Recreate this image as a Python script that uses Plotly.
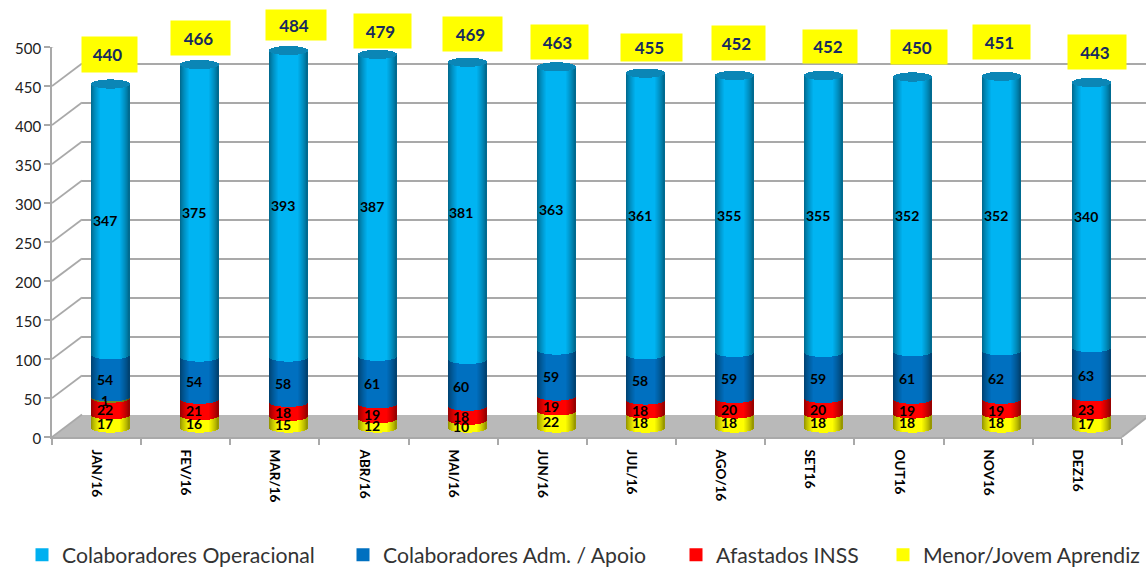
import plotly.graph_objects as go

months = ["JAN/16","FEV/16","MAR/16","ABR/16","MAI/16","JUN/16","JUL/16","AGO/16","SET16","OUT16","NOV16","DEZ16"]
operacional = [347,375,393,387,381,363,361,355,355,352,352,340]
administrativo = [54,54,58,61,60,59,58,59,59,61,62,63]
extra = [1,0,0,0,0,0,0,0,0,0,0,0]
afastados = [22,21,18,19,18,19,18,20,20,19,19,23]
aprendiz = [17,16,15,12,10,22,18,18,18,18,18,17]
totais = [440,466,484,479,469,463,455,452,452,450,451,443]
y_ticks = [0,50,100,150,200,250,300,350,400,450,500]

# label-box styling (pixel offsets from the top of each column, box sizes)
box_dx = [-1.3,0.5,6.8,4.1,4.9,2.7,5.5,3.3,5.6,5.4,-1.3,5]
box_dy = [30,26,25,22.9,27.7,24.4,25,32,28.5,29.5,33.8,29.5]
box_w = [55,59,60,57,59,57,61,53,54,56,57,58]
box_h = [35,34,30,34,34,34,27,34,33,34,34,34]

W, H = 1146, 568
FONT = "Lato"
GRID = "#a9a9a9"
PX_X = 89.15   # px per category
PX_Y = 0.78    # px per unit

def dx(a, b): return [a/W, b/W]
def dy(bottom, top): return [1-bottom/H, 1-top/H]

series = [
    ("Menor/Jovem Aprendiz", aprendiz, "#FFFF00"),
    ("Afastados INSS", afastados, "#FF0000"),
    ("extra", extra, "#7a8a20"),
    ("Colaboradores Adm. / Apoio", administrativo, "#0070C0"),
    ("Colaboradores Operacional", operacional, "#00B4F2"),
]

def shade(hexc, t):
    a = abs(t)
    f = 0.55 + 0.45*min(1, ((1-a)/0.5))**0.75
    r, g, b = int(hexc[1:3],16), int(hexc[3:5],16), int(hexc[5:7],16)
    return f"rgb({int(r*f)},{int(g*f)},{int(b*f)})"

N = 38
BAR_PX = 38.0
BULGE = 4.6/PX_Y
ts = [-1 + (2*k+1)/N for k in range(N)]
sw = (BAR_PX/N*1.25)/PX_X

fig = go.Figure()

# wall axes (back gridlines)
fig.add_trace(go.Scatter(x=[0],y=[0],xaxis="x",yaxis="y",mode="none",showlegend=False,hoverinfo="skip"))
# front axes
fig.add_trace(go.Scatter(x=[0],y=[0],xaxis="x2",yaxis="y2",mode="none",showlegend=False,hoverinfo="skip"))

cum = [0]*12
for name, vals, col in series:
    xs, bases, hs, cols = [], [], [], []
    for i, v in enumerate(vals):
        if v == 0:
            continue
        for t in ts:
            b = BULGE*(1-t*t)**0.5
            xs.append(i+0.5+t*BAR_PX/2/PX_X)
            bases.append(cum[i]-b)
            hs.append(v)
            cols.append(shade(col, t))
    fig.add_trace(go.Bar(x=xs,y=hs,base=bases,width=sw,marker=dict(color=cols,line=dict(width=0)),
                         xaxis="x3",yaxis="y3",showlegend=False,hoverinfo="skip"))
    cum = [c+v for c, v in zip(cum, vals)]

# top cap
xs, bases, hs = [], [], []
for i, c in enumerate(cum):
    for t in ts:
        b = BULGE*(1-t*t)**0.5
        xs.append(i+0.5+t*BAR_PX/2/PX_X)
        bases.append(c-b)
        hs.append(2*b)
fig.add_trace(go.Bar(x=xs,y=hs,base=bases,width=sw,marker=dict(color="#0b86b6",line=dict(width=0)),
                     xaxis="x3",yaxis="y3",showlegend=False,hoverinfo="skip"))

# legend entries, each placed on its own
legend_items = [("Colaboradores Operacional","#00B0F0","legend",22),
                ("Colaboradores Adm. / Apoio","#0070C0","legend2",343),
                ("Afastados INSS","#FF0000","legend3",676),
                ("Menor/Jovem Aprendiz","#FFFF00","legend4",883)]
for name,c,lg,_ in legend_items:
    fig.add_trace(go.Scatter(x=[None],y=[None],mode="markers",name=name,legend=lg,xaxis="x3",yaxis="y3",
                             marker=dict(symbol="square",size=13,color=c)))

annotations = []
# segment value labels
cum = [0]*12
for name, vals, col in series:
    for i, v in enumerate(vals):
        if v == 0:
            continue
        shift = -2.5 if name.startswith("Menor") else (-4 if v < 100 else -2)
        annotations.append(dict(x=i+0.5,y=cum[i]+v/2,xref="x3",yref="y3",text=f"<b>{v}</b>",showarrow=False,
                                xshift=-6,yshift=shift,font=dict(family=FONT,size=14,color="#000000")))
    cum = [c+v for c, v in zip(cum, vals)]
# total labels
for i, v in enumerate(totais):
    annotations.append(dict(x=i+0.5,y=v,xref="x3",yref="y3",text=f"<b>{v}\u00a0</b>",showarrow=False,
                            xshift=box_dx[i],yshift=box_dy[i],width=box_w[i],height=box_h[i],
                            bgcolor="#FFFF00",borderpad=0,valign="middle",align="center",
                            font=dict(family=FONT,size=17,color="#172a5f")))

shapes = [dict(type="path",xref="paper",yref="paper",layer="below",line=dict(width=0),fillcolor="#b9b9b9",
               path=f"M {52/W} {1-437/H} L {82/W} {1-415/H} L 1 {1-415/H} L 1 {1-418/H} L {1122/W} {1-437/H} Z")]
for v in y_ticks:
    shapes.append(dict(type="line",xref="x2",yref="y2",xsizemode="pixel",ysizemode="pixel",xanchor=0,yanchor=v,
                       x0=0,x1=30,y0=0,y1=22.5,layer="below",line=dict(color=GRID,width=1.8)))
shapes.append(dict(type="line",xref="paper",yref="paper",x0=1122/W,x1=1,y0=1-437/H,y1=1-418/H,layer="below",
                   line=dict(color=GRID,width=1.8)))

BELOW = 20  # room under the column base for the rounded bottom
fig.update_layout(
    width=W,height=H,margin=dict(l=0,r=0,t=0,b=0,autoexpand=False),autosize=False,
    paper_bgcolor="white",plot_bgcolor="rgba(0,0,0,0)",barmode="overlay",bargap=0,
    font=dict(family=FONT),showlegend=True,
    # wall
    xaxis=dict(domain=dx(82,W),range=[0,(W-82)/PX_X],showgrid=False,zeroline=False,showticklabels=False,ticks="",anchor="y"),
    yaxis=dict(domain=dy(414.5,24.5),range=[0,500],tickvals=y_ticks,showgrid=True,gridcolor=GRID,gridwidth=1.8,
               zeroline=False,showticklabels=False,ticks="",anchor="x"),
    # front axes
    xaxis2=dict(domain=dx(52,52+12*PX_X),range=[0,12],tickvals=[i+0.5 for i in range(12)],ticktext=months,
                tickangle=90,ticks="",ticklabelstandoff=8,showgrid=False,zeroline=False,anchor="y2",
                tickfont=dict(family=FONT,size=13.5,color="#000000",weight=700),showline=True,linecolor=GRID,linewidth=1.8,
                minor=dict(tickmode="array",tickvals=list(range(13)),ticks="outside",ticklen=6,tickcolor=GRID,tickwidth=1.5,showgrid=False)),
    yaxis2=dict(domain=dy(437,47),range=[0,500],tickvals=y_ticks,ticks="outside",ticklen=6,tickcolor=GRID,tickwidth=1.5,
                showgrid=False,zeroline=False,anchor="x2",showline=True,linecolor=GRID,linewidth=1.8,ticklabelshift=2,
                tickfont=dict(family=FONT,size=15,color="#222222")),
    # columns
    xaxis3=dict(domain=dx(66.3,66.3+12*PX_X),range=[0,12],visible=False,anchor="y3",fixedrange=True),
    yaxis3=dict(domain=dy(427.5+BELOW*PX_Y,37.5),range=[-BELOW,500],visible=False,anchor="x3",fixedrange=True),
    shapes=shapes,annotations=annotations,
)

for name,c,lg,px in legend_items:
    fig.update_layout({lg: dict(x=px/W,y=1-555/H,xref="container",yref="container",xanchor="left",yanchor="middle",
                                bgcolor="rgba(0,0,0,0)",borderwidth=0,font=dict(family=FONT,size=21.2,color="#333333"))})

fig.write_html("out.html", config=dict(displayModeBar=False),
               post_script="document.body.style.margin='0';document.documentElement.style.overflow='hidden';")
